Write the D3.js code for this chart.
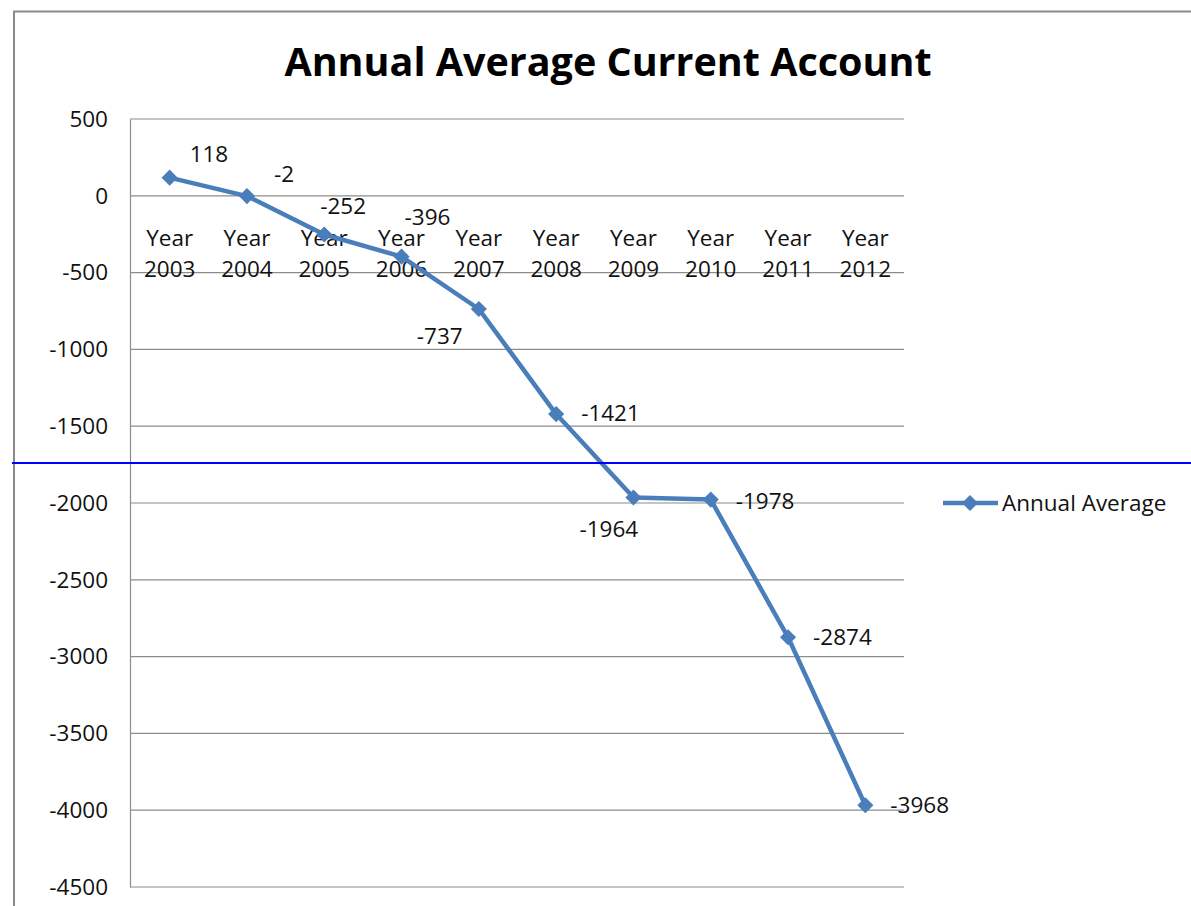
<!DOCTYPE html>
<html>
<head>
<meta charset="utf-8">
<script src="https://cdn.jsdelivr.net/npm/d3@7"></script>
<style>
  body { margin: 0; background: #fff; }
  text { font-family: "Open Sans", Lato, sans-serif; }
</style>
</head>
<body>
<div class="chart"></div>
<script>
// data
var years = ["Year 2003", "Year 2004", "Year 2005", "Year 2006", "Year 2007",
             "Year 2008", "Year 2009", "Year 2010", "Year 2011", "Year 2012"];
var annualAverage = [118, -2, -252, -396, -737, -1421, -1964, -1978, -2874, -3968];
var yTicks = [500, 0, -500, -1000, -1500, -2000, -2500, -3000, -3500, -4000, -4500];
var seriesName = "Annual Average";

// where each data label sits relative to its point
var labelOffsets = [[20, -16], [27, -14], [-4, -21], [3, -32], [-62, 35],
                    [25, 7], [-54, 40], [25, 9], [25, 8], [25, 8]];

var width = 1191, height = 906;
var lineColor = "#4a7ebb", gridColor = "#8c8c8c";
var fs = 22.5;

var svg = d3.select(".chart")
    .append("svg")
    .attr("width", width)
    .attr("height", height);

// outer chart frame
svg.append("path")
    .attr("d", "M14,906 V11.5 H1191")
    .attr("fill", "none")
    .attr("stroke", "#8a8a8a")
    .attr("stroke-width", 2);

svg.append("text")
    .attr("x", 608)
    .attr("y", 76)
    .attr("text-anchor", "middle")
    .attr("font-size", 39.5)
    .attr("font-weight", "bold")
    .text("Annual Average Current Account");

var x = d3.scalePoint()
    .domain(years)
    .range([131, 904])
    .padding(0.5);

var y = d3.scaleLinear()
    .domain([-4500, 500])
    .range([887, 119]);

// gridlines
svg.append("g")
    .selectAll("line")
    .data(yTicks)
    .enter()
    .append("line")
    .attr("x1", 130)
    .attr("x2", 904)
    .attr("y1", function(d) { return y(d); })
    .attr("y2", function(d) { return y(d); })
    .attr("stroke", gridColor)
    .attr("stroke-width", 1.2);

var yAxis = svg.append("g")
    .attr("transform", "translate(130,0)")
    .call(d3.axisLeft(y).tickValues(yTicks).tickSize(0).tickPadding(22)
        .tickFormat(function(d) { return String(d); }));
yAxis.select(".domain").attr("stroke", gridColor).attr("stroke-width", 1.2);
yAxis.selectAll("text")
    .attr("font-size", fs)
    .attr("fill", "#111")
    .style("font-family", "'Open Sans', Lato, sans-serif");

// category labels hang under the zero line
var cat = svg.append("g")
    .selectAll("text")
    .data(years)
    .enter()
    .append("text")
    .attr("text-anchor", "middle")
    .attr("font-size", fs)
    .attr("fill", "#111");
cat.append("tspan")
    .attr("x", function(d) { return x(d); })
    .attr("y", 246)
    .text(function(d) { return d.split(" ")[0]; });
cat.append("tspan")
    .attr("x", function(d) { return x(d); })
    .attr("y", 277)
    .text(function(d) { return d.split(" ")[1]; });

var line = d3.line()
    .x(function(d, i) { return x(years[i]); })
    .y(function(d) { return y(d); });

svg.append("path")
    .datum(annualAverage)
    .attr("d", line)
    .attr("fill", "none")
    .attr("stroke", lineColor)
    .attr("stroke-width", 4.5)
    .attr("stroke-linejoin", "round");

// square turned 45 degrees, like the spreadsheet's diamond marker
var diamond = d3.symbol().type(d3.symbolSquare).size(130);

svg.append("g")
    .selectAll("path")
    .data(annualAverage)
    .enter()
    .append("path")
    .attr("d", diamond)
    .attr("transform", function(d, i) {
        return "translate(" + x(years[i]) + "," + y(d) + ") rotate(45)";
    })
    .attr("fill", lineColor);

svg.append("g")
    .selectAll("text")
    .data(annualAverage)
    .enter()
    .append("text")
    .attr("x", function(d, i) { return x(years[i]) + labelOffsets[i][0]; })
    .attr("y", function(d, i) { return y(d) + labelOffsets[i][1]; })
    .attr("font-size", fs)
    .attr("fill", "#111")
    .text(function(d) { return d; });

// legend
var legend = svg.append("g").attr("transform", "translate(943,503)");
legend.append("line")
    .attr("x1", 0).attr("x2", 55)
    .attr("stroke", lineColor)
    .attr("stroke-width", 4.5);
legend.append("path")
    .attr("d", diamond)
    .attr("transform", "translate(27,0) rotate(45)")
    .attr("fill", lineColor);
legend.append("text")
    .attr("x", 59)
    .attr("y", 8)
    .attr("font-size", fs)
    .attr("fill", "#111")
    .text(seriesName);

// the blue rule across the picture
svg.append("line")
    .attr("x1", 12).attr("x2", width)
    .attr("y1", 463).attr("y2", 463)
    .attr("stroke", "#0000ff")
    .attr("stroke-width", 2);
</script>
</body>
</html>
